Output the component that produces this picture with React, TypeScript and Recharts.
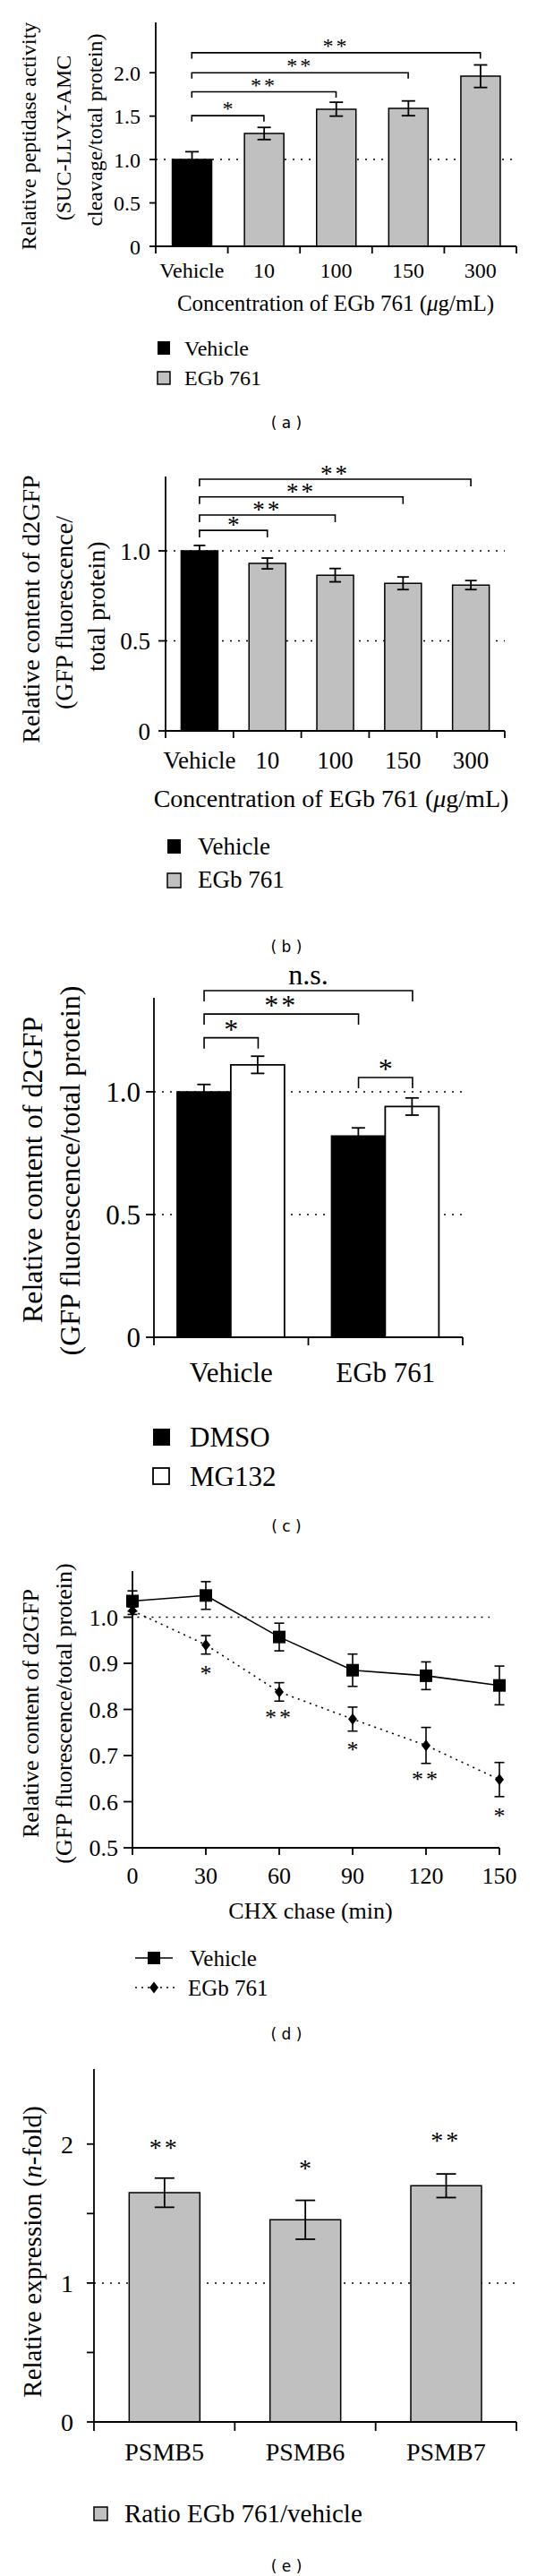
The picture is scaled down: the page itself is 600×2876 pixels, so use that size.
import React from "react";
import {
  BarChart,
  Bar,
  LineChart,
  Line,
  XAxis,
  YAxis,
  ErrorBar,
  Cell,
  CartesianGrid,
  ReferenceLine,
  ReferenceDot,
} from "recharts";

const SERIF = "'Liberation Serif', 'Times New Roman', serif";
const SANS = "'DejaVu Sans', Verdana, sans-serif";
const GRAY = "#c0c0c0";
const INK = "#000";

// (a) peptidase activity vs EGb 761 concentration
const concLabels = ["Vehicle", "10", "100", "150", "300"];
const peptidaseMean = [1.0, 1.3, 1.58, 1.59, 1.96];
const peptidaseErr = [0.09, 0.07, 0.08, 0.085, 0.13];
const peptidaseTicks = [0, 0.5, 1, 1.5, 2];
const peptidaseBracketTo = ["10", "100", "150", "300"];
const peptidaseBracketY = [1.505, 1.78, 2.0, 2.23];
const peptidaseBracketMark = ["*", "**", "**", "**"];

// (b) d2GFP content vs concentration
const d2gfpMean = [1.0, 0.93, 0.865, 0.82, 0.81];
const d2gfpErr = [0.03, 0.03, 0.037, 0.035, 0.025];
const d2gfpTicks = [0, 0.5, 1];
const d2gfpBracketTo = ["10", "100", "150", "300"];
const d2gfpBracketY = [1.114, 1.199, 1.3, 1.398];
const d2gfpBracketMark = ["*", "**", "**", "**"];

// (c) DMSO vs MG132
const mgGroups = ["Vehicle", "EGb 761"];
const dmsoMean = [1.0, 0.82];
const dmsoErr = [0.03, 0.033];
const mg132Mean = [1.11, 0.94];
const mg132Err = [0.035, 0.035];
const mgTicks = [0, 0.5, 1];
// bar index: 0 DMSO/Vehicle, 1 MG132/Vehicle, 2 DMSO/EGb, 3 MG132/EGb
const mgBracketFrom = [0, 0, 0, 2];
const mgBracketTo = [1, 2, 3, 3];
const mgBracketY = [1.22, 1.317, 1.412, 1.058];
const mgBracketMark = ["*", "**", "n.s.", "*"];

// (d) CHX chase
const chxMinutes = [0, 30, 60, 90, 120, 150];
const chxVehicle = [1.035, 1.047, 0.957, 0.885, 0.873, 0.852];
const chxVehicleErr = [0.022, 0.03, 0.03, 0.035, 0.03, 0.042];
const chxEgb = [1.014, 0.94, 0.838, 0.779, 0.722, 0.648];
const chxEgbErr = [0.008, 0.02, 0.02, 0.026, 0.039, 0.037];
const chxStarMark = ["", "*", "**", "*", "**", "*"];
const chxStarY = [0, 0.885, 0.79, 0.72, 0.655, 0.575];
const chxYTicks = [0.5, 0.6, 0.7, 0.8, 0.9, 1.0];

// (e) PSMB expression
const genes = ["PSMB5", "PSMB6", "PSMB7"];
const ratioMean = [1.65, 1.455, 1.7];
const ratioErr = [0.105, 0.14, 0.085];
const ratioStarMark = ["**", "*", "**"];
const ratioStarY = [2.0, 1.85, 2.05];
const ratioTicks = [0, 0.5, 1, 1.5, 2];

const Y_AXIS_W = 60;
const X_AXIS_H = 40;
const MG_GAP = 0.15;

const fmt1 = (v: number) => (v === 0 ? "0" : v.toFixed(1));
const fmtInt = (v: number) => (Number.isInteger(v) ? String(v) : "");

const markLabel = (mark: string, size: number, dy: number, dx = 0) => (p: any) => {
  const vb = p.viewBox || {};
  const cx = (vb.x ?? 0) + (vb.width ?? 0) / 2 + dx;
  const cy = (vb.y ?? 0) + (vb.height ?? 0) / 2;
  return (
    <text
      x={cx}
      y={cy + dy}
      textAnchor="middle"
      fontFamily={SERIF}
      fontSize={size}
      fill={INK}
      letterSpacing={mark === "**" ? 3 : 0}
    >
      {mark}
    </text>
  );
};

// significance bracket between two categories, optionally shifted to bar centres
function bracket(
  key: string,
  from: string,
  to: string,
  y: number,
  dropPx: number,
  mark: string,
  size: number,
  dy: number,
  dxFrom = 0,
  dxTo = 0
) {
  return (
    <ReferenceLine
      key={key}
      xAxisId="cat"
      ifOverflow="visible"
      segment={[
        { x: from, y },
        { x: to, y },
      ]}
      shape={(s: any) => {
        const xa = s.x1 + dxFrom;
        const xb = s.x2 + dxTo;
        const yy = s.y1;
        return (
          <polyline
            points={`${xa},${yy + dropPx} ${xa},${yy} ${xb},${yy} ${xb},${yy + dropPx}`}
            fill="none"
            stroke={INK}
            strokeWidth={1.6}
          />
        );
      }}
      label={markLabel(mark, size, dy, (dxFrom + dxTo) / 2)}
    />
  );
}

function catTick(size: number, axisY: number, halfBand: number, tickLen: number, labelDy: number) {
  return (p: any) => {
    const x = p.x;
    return (
      <g key={"t" + p.index}>
        {p.index === 0 ? (
          <line x1={x - halfBand} y1={axisY} x2={x - halfBand} y2={axisY + tickLen} stroke={INK} strokeWidth={1.8} />
        ) : null}
        <line x1={x + halfBand} y1={axisY} x2={x + halfBand} y2={axisY + tickLen} stroke={INK} strokeWidth={1.8} />
        <text
          x={x}
          y={axisY + labelDy}
          textAnchor="middle"
          dominantBaseline="central"
          fontFamily={SERIF}
          fontSize={size}
          fill={INK}
        >
          {p.payload?.value}
        </text>
      </g>
    );
  };
}

type PanelProps = {
  top: number;
  height: number;
  margin: { top: number; right: number; bottom: number; left: number };
  data: any[];
  labels: string[];
  yTop: number;
  yTicks: number[];
  yFmt: (v: number) => string;
  grid: number[];
  font: number;
  yTickLen: number;
  yTickGap: number;
  xTickLen: number;
  xLabelDy: number;
  gap: string;
  children: React.ReactNode;
};

const plotWidth = (m: { left: number; right: number }) => 600 - m.left - Y_AXIS_W - m.right;

function BarPanel(p: PanelProps) {
  const n = p.labels.length;
  const halfBand = plotWidth(p.margin) / n / 2;
  const axisY = p.height - p.margin.bottom - X_AXIS_H;
  return (
    <div style={{ position: "absolute", left: 0, top: p.top }}>
      <BarChart width={600} height={p.height} data={p.data} margin={p.margin} barCategoryGap={p.gap} barGap={0}>
        <CartesianGrid
          xAxisId="cat"
          vertical={false}
          horizontalValues={p.grid}
          stroke={INK}
          strokeWidth={1.5}
          strokeDasharray="2 7"
        />
        <XAxis
          xAxisId="cat"
          dataKey="name"
          interval={0}
          height={X_AXIS_H}
          tickLine={false}
          axisLine={{ stroke: INK, strokeWidth: 1.8 }}
          tick={catTick(p.font, axisY, halfBand, p.xTickLen, p.xLabelDy)}
        />
        <YAxis
          type="number"
          domain={[0, p.yTop]}
          ticks={p.yTicks}
          interval={0}
          tickFormatter={p.yFmt}
          width={Y_AXIS_W}
          tickSize={p.yTickLen}
          tickMargin={p.yTickGap}
          axisLine={{ stroke: INK, strokeWidth: 1.8 }}
          tickLine={{ stroke: INK, strokeWidth: 1.8 }}
          tick={{ fill: INK, fontSize: p.font, fontFamily: SERIF }}
        />
        {p.children}
      </BarChart>
    </div>
  );
}

const squareDot = (p: any) => (
  <rect key={"s" + p.index} x={p.cx - 7} y={p.cy - 7} width={14} height={14} fill={INK} />
);
const diamondDot = (p: any) => (
  <path
    key={"d" + p.index}
    d={`M${p.cx},${p.cy - 6.5} L${p.cx + 5},${p.cy} L${p.cx},${p.cy + 6.5} L${p.cx - 5},${p.cy} Z`}
    fill={INK}
  />
);

function Txt(props: {
  x: number;
  y: number;
  size: number;
  anchor?: "start" | "middle" | "end";
  rotate?: boolean;
  family?: string;
  children: React.ReactNode;
}) {
  const { x, y, size, anchor = "start", rotate = false, family = SERIF } = props;
  return (
    <text
      x={x}
      y={y}
      fontSize={size}
      fontFamily={family}
      textAnchor={anchor}
      dominantBaseline="central"
      fill={INK}
      transform={rotate ? `rotate(-90 ${x} ${y})` : undefined}
    >
      {props.children}
    </text>
  );
}

export default function App() {
  const peptidaseData = concLabels.map((name, i) => ({ name, mean: peptidaseMean[i], err: peptidaseErr[i] }));
  const d2gfpData = concLabels.map((name, i) => ({ name, mean: d2gfpMean[i], err: d2gfpErr[i] }));
  const mgData = mgGroups.map((name, i) => ({
    name,
    dmso: dmsoMean[i],
    dmsoErr: dmsoErr[i],
    mg132: mg132Mean[i],
    mg132Err: mg132Err[i],
  }));
  const chxData = chxMinutes.map((t, i) => ({
    t,
    vehicle: chxVehicle[i],
    vehicleErr: chxVehicleErr[i],
    egb: chxEgb[i],
    egbErr: chxEgbErr[i],
  }));
  const ratioData = genes.map((name, i) => ({ name, mean: ratioMean[i], err: ratioErr[i] }));

  const mgMargin = { top: 54, right: 83, left: 112, bottom: 187 };
  const mgHalfBar = ((plotWidth(mgMargin) / mgGroups.length) * (1 - 2 * MG_GAP)) / 4;
  const mgCat = (k: number) => mgGroups[Math.floor(k / 2)];
  const mgDx = (k: number) => (k % 2 === 0 ? -mgHalfBar : mgHalfBar);

  return (
    <div style={{ position: "absolute", left: 0, top: 0, width: 600, height: 2876, background: "#fff" }}>
      {/* (a) */}
      <BarPanel
        top={0}
        height={490}
        margin={{ top: 25, right: 23, left: 114, bottom: 175 }}
        data={peptidaseData}
        labels={concLabels}
        yTop={2.58}
        yTicks={peptidaseTicks}
        yFmt={fmt1}
        grid={[1]}
        font={24}
        yTickLen={7}
        yTickGap={10}
        xTickLen={8}
        xLabelDy={27}
        gap="23%"
      >
        <Bar xAxisId="cat" dataKey="mean" stroke={INK} strokeWidth={1.5} isAnimationActive={false}>
          {peptidaseData.map((d, i) => (
            <Cell key={d.name} fill={i === 0 ? INK : GRAY} />
          ))}
          <ErrorBar dataKey="err" direction="y" width={7.5} stroke={INK} strokeWidth={1.8} />
        </Bar>
        {peptidaseBracketTo.map((to, i) =>
          bracket("a" + i, "Vehicle", to, peptidaseBracketY[i], 6.5, peptidaseBracketMark[i], 24, 0)
        )}
      </BarPanel>

      {/* (b) */}
      <BarPanel
        top={490}
        height={585}
        margin={{ top: 42, right: 36, left: 125, bottom: 219 }}
        data={d2gfpData}
        labels={concLabels}
        yTop={1.413}
        yTicks={d2gfpTicks}
        yFmt={fmt1}
        grid={[0.5, 1]}
        font={27}
        yTickLen={8}
        yTickGap={9}
        xTickLen={8}
        xLabelDy={33}
        gap="23%"
      >
        <Bar xAxisId="cat" dataKey="mean" stroke={INK} strokeWidth={1.5} isAnimationActive={false}>
          {d2gfpData.map((d, i) => (
            <Cell key={d.name} fill={i === 0 ? INK : GRAY} />
          ))}
          <ErrorBar dataKey="err" direction="y" width={6.5} stroke={INK} strokeWidth={1.8} />
        </Bar>
        {d2gfpBracketTo.map((to, i) =>
          bracket("b" + i, "Vehicle", to, d2gfpBracketY[i], 8, d2gfpBracketMark[i], 27, 3)
        )}
      </BarPanel>

      {/* (c) */}
      <BarPanel
        top={1060}
        height={660}
        margin={mgMargin}
        data={mgData}
        labels={mgGroups}
        yTop={1.383}
        yTicks={mgTicks}
        yFmt={fmt1}
        grid={[0.5, 1]}
        font={31}
        yTickLen={9}
        yTickGap={6}
        xTickLen={9}
        xLabelDy={39}
        gap={`${MG_GAP * 100}%`}
      >
        <Bar xAxisId="cat" dataKey="dmso" fill={INK} stroke={INK} strokeWidth={1.5} isAnimationActive={false}>
          <ErrorBar dataKey="dmsoErr" direction="y" width={7.5} stroke={INK} strokeWidth={1.8} />
        </Bar>
        <Bar xAxisId="cat" dataKey="mg132" fill="#fff" stroke={INK} strokeWidth={1.8} isAnimationActive={false}>
          <ErrorBar dataKey="mg132Err" direction="y" width={7.5} stroke={INK} strokeWidth={1.8} />
        </Bar>
        {mgBracketFrom.map((from, i) =>
          bracket(
            "c" + i,
            mgCat(from),
            mgCat(mgBracketTo[i]),
            mgBracketY[i],
            12,
            mgBracketMark[i],
            32,
            mgBracketMark[i] === "n.s." ? -7 : 1,
            mgDx(from),
            mgDx(mgBracketTo[i])
          )
        )}
      </BarPanel>

      {/* (d) */}
      <div style={{ position: "absolute", left: 0, top: 1720 }}>
        <LineChart width={600} height={565} data={chxData} margin={{ top: 34, right: 42, left: 88, bottom: 162 }}>
          <XAxis
            type="number"
            dataKey="t"
            domain={[0, 150]}
            ticks={chxMinutes}
            interval={0}
            height={60}
            tickSize={8}
            tickMargin={14}
            axisLine={{ stroke: INK, strokeWidth: 1.8 }}
            tickLine={{ stroke: INK, strokeWidth: 1.8 }}
            tick={{ fill: INK, fontSize: 26, fontFamily: SERIF }}
          />
          <YAxis
            type="number"
            domain={[0.5, 1.1]}
            ticks={chxYTicks}
            interval={0}
            tickFormatter={(v: number) => v.toFixed(1)}
            width={Y_AXIS_W}
            tickSize={10}
            tickMargin={6}
            axisLine={{ stroke: INK, strokeWidth: 1.8 }}
            tickLine={{ stroke: INK, strokeWidth: 1.8 }}
            tick={{ fill: INK, fontSize: 26, fontFamily: SERIF }}
          />
          <ReferenceLine
            segment={[
              { x: 2, y: 1 },
              { x: 146, y: 1 },
            ]}
            stroke={INK}
            strokeWidth={1.5}
            strokeDasharray="2 6"
          />
          <Line
            dataKey="egb"
            stroke={INK}
            strokeWidth={1.6}
            strokeDasharray="2 5"
            dot={diamondDot}
            activeDot={false}
            isAnimationActive={false}
          >
            <ErrorBar dataKey="egbErr" direction="y" width={5.5} stroke={INK} strokeWidth={1.6} />
          </Line>
          <Line
            dataKey="vehicle"
            stroke={INK}
            strokeWidth={1.6}
            dot={squareDot}
            activeDot={false}
            isAnimationActive={false}
          >
            <ErrorBar dataKey="vehicleErr" direction="y" width={5.5} stroke={INK} strokeWidth={1.6} />
          </Line>
          {chxMinutes.map((t, i) =>
            chxStarMark[i] ? (
              <ReferenceDot
                key={"st" + t}
                x={t}
                y={chxStarY[i]}
                r={0}
                fill="none"
                stroke="none"
                ifOverflow="visible"
                label={markLabel(chxStarMark[i], 26, 12)}
              />
            ) : null
          )}
        </LineChart>
      </div>

      {/* (e) */}
      <BarPanel
        top={2285}
        height={591}
        margin={{ top: 25, right: 23, left: 45, bottom: 132 }}
        data={ratioData}
        labels={genes}
        yTop={2.54}
        yTicks={ratioTicks}
        yFmt={fmtInt}
        grid={[1]}
        font={28}
        yTickLen={8}
        yTickGap={15}
        xTickLen={10}
        xLabelDy={33}
        gap="25%"
      >
        <Bar xAxisId="cat" dataKey="mean" fill={GRAY} stroke={INK} strokeWidth={1.5} isAnimationActive={false}>
          <ErrorBar dataKey="err" direction="y" width={11} stroke={INK} strokeWidth={1.8} />
        </Bar>
        {genes.map((g, i) => (
          <ReferenceDot
            key={"rs" + g}
            xAxisId="cat"
            x={g}
            y={ratioStarY[i]}
            r={0}
            fill="none"
            stroke="none"
            ifOverflow="visible"
            label={markLabel(ratioStarMark[i], 28, 13)}
          />
        ))}
      </BarPanel>

      {/* titles, legends, panel letters */}
      <svg width={600} height={2876} style={{ position: "absolute", left: 0, top: 0, pointerEvents: "none" }}>
        {/* (a) */}
        <Txt x={32} y={152} size={24} anchor="middle" rotate>Relative peptidase activity</Txt>
        <Txt x={71} y={154} size={24} anchor="middle" rotate>(SUC-LLVY-AMC</Txt>
        <Txt x={106} y={145} size={24} anchor="middle" rotate>cleavage/total protein)</Txt>
        <Txt x={375} y={338} size={25} anchor="middle">
          Concentration of EGb 761 (<tspan fontStyle="italic">μ</tspan>g/mL)
        </Txt>
        <rect x={176} y={381} width={14} height={15} fill={INK} />
        <Txt x={206} y={389} size={24}>Vehicle</Txt>
        <rect x={176} y={415} width={14} height={14} fill={GRAY} stroke={INK} strokeWidth={1.5} />
        <Txt x={206} y={422} size={24}>EGb 761</Txt>
        <Txt x={320} y={472} size={17} anchor="middle" family={SANS}>( a )</Txt>

        {/* (b) */}
        <Txt x={34} y={680} size={28} anchor="middle" rotate>Relative content of d2GFP</Txt>
        <Txt x={71} y={684} size={28} anchor="middle" rotate>(GFP fluorescence/</Txt>
        <Txt x={107} y={677} size={28} anchor="middle" rotate>total protein)</Txt>
        <Txt x={370} y={891} size={28} anchor="middle">
          Concentration of EGb 761 (<tspan fontStyle="italic">μ</tspan>g/mL)
        </Txt>
        <rect x={187} y={937} width={15} height={16} fill={INK} />
        <Txt x={221} y={945} size={27}>Vehicle</Txt>
        <rect x={187} y={975} width={15} height={16} fill={GRAY} stroke={INK} strokeWidth={1.5} />
        <Txt x={221} y={982} size={27}>EGb 761</Txt>
        <Txt x={320} y={1057} size={17} anchor="middle" family={SANS}>( b )</Txt>

        {/* (c) */}
        <Txt x={36} y={1306} size={32} anchor="middle" rotate>Relative content of d2GFP</Txt>
        <Txt x={78} y={1307} size={32} anchor="middle" rotate>(GFP fluorescence/total protein)</Txt>
        <rect x={171} y={1595} width={19} height={19} fill={INK} />
        <Txt x={212} y={1604} size={31}>DMSO</Txt>
        <rect x={171} y={1639} width={18} height={18} fill="#fff" stroke={INK} strokeWidth={1.8} />
        <Txt x={212} y={1648} size={31}>MG132</Txt>
        <Txt x={320} y={1704} size={17} anchor="middle" family={SANS}>( c )</Txt>

        {/* (d) */}
        <Txt x={34} y={1913} size={26} anchor="middle" rotate>Relative content of d2GFP</Txt>
        <Txt x={71} y={1913} size={26} anchor="middle" rotate>(GFP fluorescence/total protein)</Txt>
        <Txt x={347} y={2133} size={26} anchor="middle">CHX chase (min)</Txt>
        <line x1={151} y1={2186} x2={193} y2={2186} stroke={INK} strokeWidth={1.6} />
        <rect x={165} y={2179} width={14} height={14} fill={INK} />
        <Txt x={212} y={2186} size={25}>Vehicle</Txt>
        <line x1={151} y1={2219} x2={195} y2={2219} stroke={INK} strokeWidth={1.6} strokeDasharray="2 5" />
        <path d="M172,2212.5 L177,2219 L172,2225.5 L167,2219 Z" fill={INK} />
        <Txt x={210} y={2219} size={25}>EGb 761</Txt>
        <Txt x={320} y={2271} size={17} anchor="middle" family={SANS}>( d )</Txt>

        {/* (e) */}
        <Txt x={36} y={2514} size={29} anchor="middle" rotate>
          Relative expression (<tspan fontStyle="italic">n</tspan>-fold)
        </Txt>
        <rect x={105} y={2799} width={15} height={15} fill={GRAY} stroke={INK} strokeWidth={1.5} />
        <Txt x={139} y={2806} size={29}>Ratio EGb 761/vehicle</Txt>
        <Txt x={320} y={2865} size={17} anchor="middle" family={SANS}>( e )</Txt>
      </svg>
    </div>
  );
}
